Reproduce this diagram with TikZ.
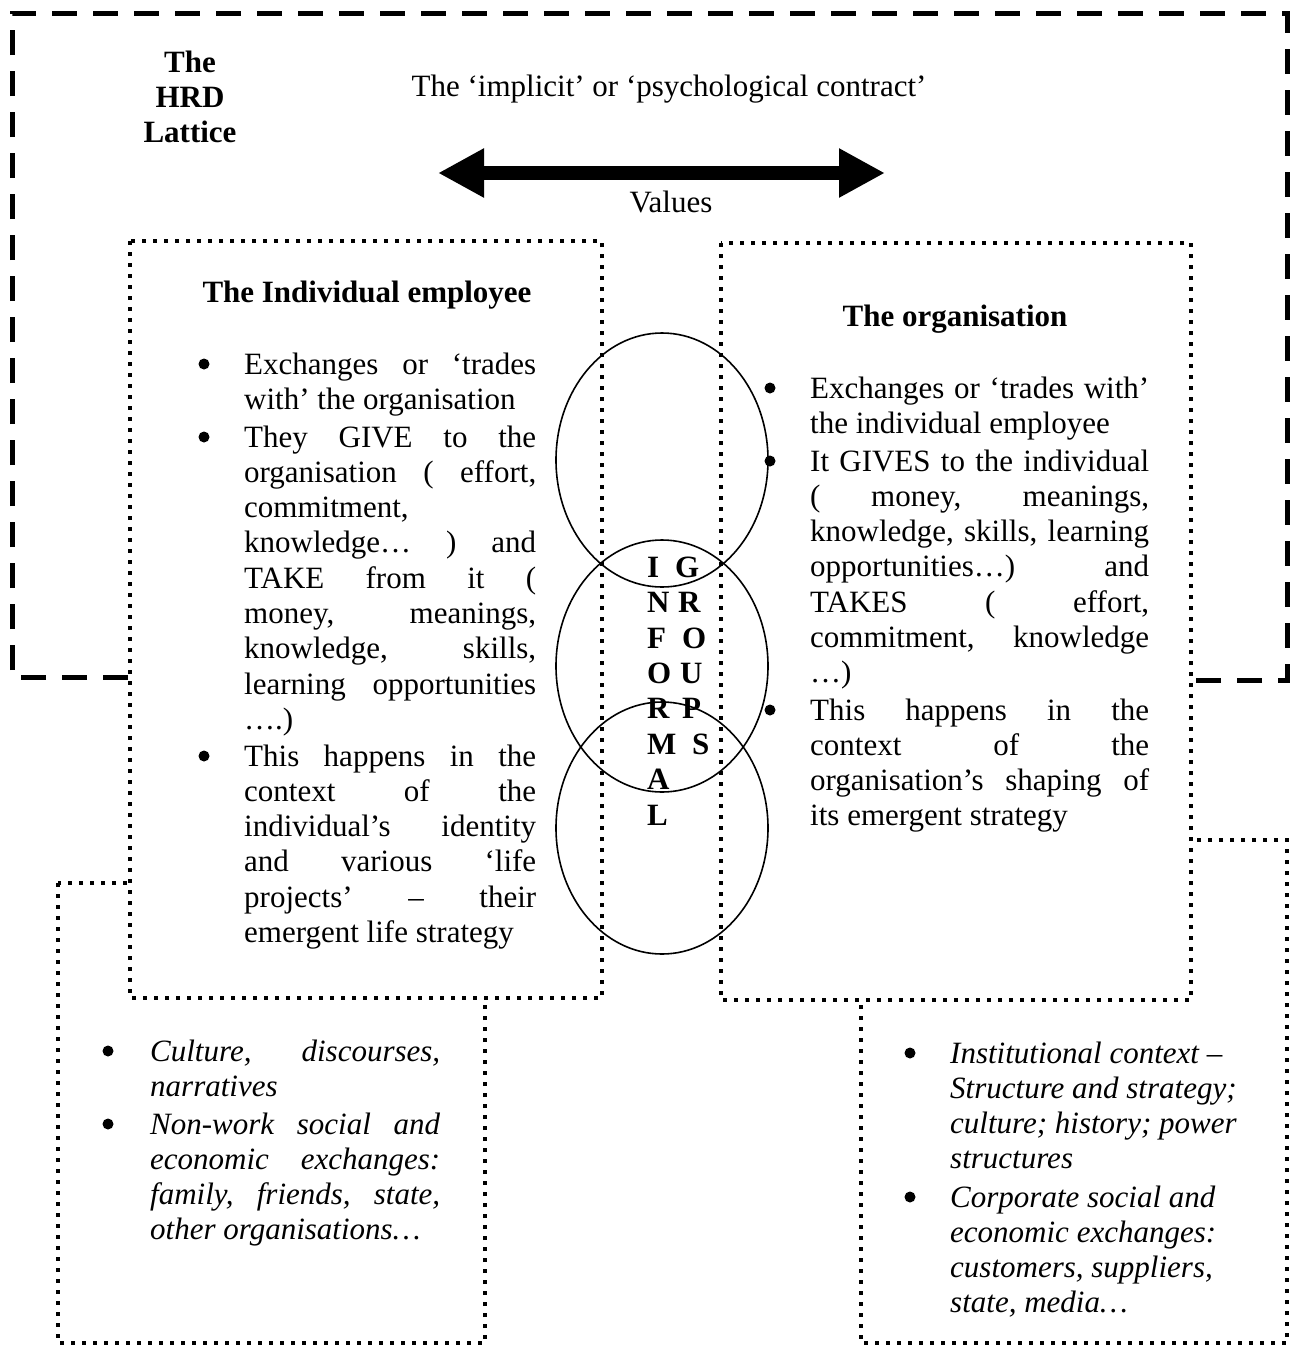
\documentclass[tikz,border=0pt]{standalone}
\usepackage{fontspec}
\setmainfont{Liberation Serif}
\usetikzlibrary{arrows.meta}

% one justified line / one ragged (last) line of a paragraph
\newcommand\jline[1]{\hbox to \linewidth{#1}}
\newcommand\lastline[1]{\hbox{#1}}

\begin{document}
\begin{tikzpicture}[x=1pt,y=-1pt,
  outerframe/.style={line width=5pt, dash pattern=on 25pt off 16pt, line join=miter},
  dotbox/.style={line width=4pt, dash pattern=on 4pt off 7pt, fill=white},
  ring/.style={line width=1.6pt},
  bul/.style={fill=black},
  txt/.style={anchor=base west, inner sep=0pt, font=\fontsize{31}{35.3}\selectfont},
  itxt/.style={txt, font=\fontsize{31}{35.3}\selectfont\itshape},
  btxt/.style={inner sep=0pt, anchor=base, font=\fontsize{31}{35.3}\selectfont\bfseries},
  lett/.style={anchor=base west, inner sep=0pt, font=\fontsize{31}{35.3}\selectfont\bfseries},
  bigarrow/.style={line width=14pt,
    {Triangle[length=46pt 0 0, width=46pt 0 0]}-{Triangle[length=46pt 0 0, width=46pt 0 0]}}
]
\useasboundingbox (0,0) rectangle (1296,1347);

% outer dashed frame of the lattice
\draw[outerframe] (128,677) -- (12,677) -- (12,13) -- (1287,13) -- (1287,680) -- (1190,680);

% context boxes below
\draw[dotbox] (58,883) rectangle (485,1343);
\draw[dotbox] (861,840) rectangle (1287,1343);

% the two parties
\draw[dotbox] (130,241) rectangle (602,998);
\draw[dotbox] (721,243) rectangle (1191,1000);

% overlapping rings of informal groups
\draw[ring] (662,460) ellipse [x radius=106, y radius=127];
\draw[ring] (662,666) ellipse [x radius=106, y radius=126];
\draw[ring] (662,828) ellipse [x radius=106, y radius=126];

\foreach \c/\y [count=\i] in {I/577,N/612,F/648,O/683,R/718,M/754,A/789,L/825}
  \node[lett] (inf\i) at (647,\y) {\c};
\foreach \c/\x/\y [count=\i] in {G/675/577,R/678/612,O/682/648,U/680/683,P/682/718,S/692/754}
  \node[lett] (grp\i) at (\x,\y) {\c};

% heading and values arrow
\node[btxt] (hrd) at (190,72) {\parbox[t]{200pt}{\centering The\\HRD\\Lattice}};
\node[txt, anchor=base] (contract) at (669,96) {The ‘implicit’ or ‘psychological contract’};
\coordinate (vl) at (438,173);
\coordinate (vr) at (885,173);
\draw[bigarrow] (vl) -- (vr);
\node[txt, anchor=base] (values) at (671,212) {Values};

% the individual employee
\node[btxt] (indT) at (367,302) {The Individual employee};
\foreach \y in {364,437,756} \fill[bul] (204,\y) circle (5.5);
\node[txt] (ind1) at (244,374) {\parbox[t]{292pt}{%
  \jline{Exchanges or ‘trades}
  \lastline{with’ the organisation}}};
\node[txt] (ind2) at (244,447) {\parbox[t]{292pt}{%
  \jline{They GIVE to the}
  \jline{organisation ( effort,}
  \lastline{commitment,}
  \jline{knowledge… ) and}
  \jline{TAKE from it (}
  \jline{money, meanings,}
  \jline{knowledge, skills,}
  \jline{learning opportunities}
  \lastline{….)}}};
\node[txt] (ind3) at (244,766) {\parbox[t]{292pt}{%
  \jline{This happens in the}
  \jline{context of the}
  \jline{individual’s identity}
  \jline{and various ‘life}
  \jline{projects’ – their}
  \lastline{emergent life strategy}}};

% the organisation
\node[btxt] (orgT) at (955,326) {The organisation};
\foreach \y in {388,461,710} \fill[bul] (770,\y) circle (5.5);
\node[txt] (org1) at (810,398) {\parbox[t]{339pt}{%
  \jline{Exchanges or ‘trades with’}
  \lastline{the individual employee}}};
\node[txt] (org2) at (810,471) {\parbox[t]{339pt}{%
  \jline{It GIVES to the individual}
  \jline{( money, meanings,}
  \jline{knowledge, skills, learning}
  \jline{opportunities…) and}
  \jline{TAKES ( effort,}
  \jline{commitment, knowledge}
  \lastline{…)}}};
\node[txt] (org3) at (810,720) {\parbox[t]{339pt}{%
  \jline{This happens in the}
  \jline{context of the}
  \jline{organisation’s shaping of}
  \lastline{its emergent strategy}}};

% personal context
\foreach \y in {1051,1124} \fill[bul] (108,\y) circle (5.5);
\node[itxt] (pc1) at (150,1061) {\parbox[t]{290pt}{%
  \jline{Culture, discourses,}
  \lastline{narratives}}};
\node[itxt] (pc2) at (150,1134) {\parbox[t]{290pt}{%
  \jline{Non-work social and}
  \jline{economic exchanges:}
  \jline{family, friends, state,}
  \lastline{other organisations…}}};

% institutional context
\foreach \y in {1053,1197} \fill[bul] (910,\y) circle (5.5);
\node[itxt] (ic1) at (950,1063) {\parbox[t]{300pt}{%
  \lastline{Institutional context –}
  \lastline{Structure and strategy;}
  \lastline{culture; history; power}
  \lastline{structures}}};
\node[itxt] (ic2) at (950,1207) {\parbox[t]{300pt}{%
  \lastline{Corporate social and}
  \lastline{economic exchanges:}
  \lastline{customers, suppliers,}
  \lastline{state, media…}}};
\end{tikzpicture}
\end{document}
